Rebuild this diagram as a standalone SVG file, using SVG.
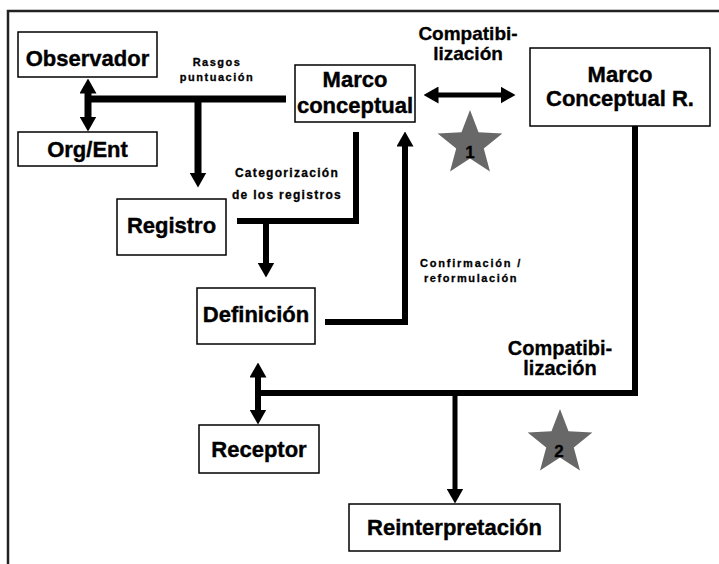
<svg xmlns="http://www.w3.org/2000/svg" width="719" height="564" viewBox="0 0 719 564">
  <style>
    .box { fill: #fff; stroke: #000; stroke-width: 1.5; }
    .node { font-family: "Liberation Sans", Arial, sans-serif; font-weight: bold; font-size: 22px; text-anchor: middle; fill: #000; stroke: #000; stroke-width: 0.4; }
    .lbl { font-family: "Liberation Sans", Arial, sans-serif; font-weight: bold; text-anchor: middle; fill: #000; stroke: #000; stroke-width: 0.3; }
    .wire { fill: none; stroke: #000; stroke-linejoin: miter; stroke-linecap: butt; }
    .star { fill: #686868; }
  </style>
  <defs>
    <marker id="head" viewBox="0 0 15 17" refX="0.5" refY="8.5" markerWidth="15" markerHeight="17" markerUnits="userSpaceOnUse" orient="auto-start-reverse">
      <path d="M0,0 L15,8.5 L0,17 z" fill="#000"/>
    </marker>
    <!-- five-pointed star, outer radius 34, inner radius 14.5 -->
    <polygon id="starShape" points="0,-34 8.52,-11.73 32.34,-10.51 13.79,4.48 19.98,27.51 0,14.5 -19.98,27.51 -13.79,4.48 -32.34,-10.51 -8.52,-11.73"/>
  </defs>

  <rect x="0" y="0" width="719" height="564" fill="#fff"/>
  <!-- outer frame -->
  <rect x="8" y="11" width="740" height="600" fill="none" stroke="#222" stroke-width="2.5"/>

  <!-- connectors -->
  <g id="connectors">
    <path class="wire" stroke-width="7" d="M88,93 V117" marker-start="url(#head)" marker-end="url(#head)"/>
    <path class="wire" stroke-width="7" d="M88,99 H286"/>
    <path class="wire" stroke-width="7" d="M198,99 V173" marker-end="url(#head)"/>
    <path class="wire" stroke-width="6" d="M356,132 V221 H237"/>
    <path class="wire" stroke-width="6" d="M266,221 V263" marker-end="url(#head)"/>
    <path class="wire" stroke-width="6" d="M325,322 H405 V146" marker-end="url(#head)"/>
    <path class="wire" stroke-width="5" d="M438,95 H501" marker-start="url(#head)" marker-end="url(#head)"/>
    <path class="wire" stroke-width="6" d="M635,126 V393 H255"/>
    <path class="wire" stroke-width="6" d="M258,377 V410" marker-start="url(#head)" marker-end="url(#head)"/>
    <path class="wire" stroke-width="5" d="M455,393 V489" marker-end="url(#head)"/>
  </g>

  <!-- connector labels -->
  <g id="labels">
    <text class="lbl" font-size="11" letter-spacing="1.5" x="217" y="66">Rasgos</text>
    <text class="lbl" font-size="11" letter-spacing="1.5" x="217" y="81">puntuación</text>
    <text class="lbl" font-size="19" x="468" y="40">Compatibi-</text>
    <text class="lbl" font-size="19" x="468" y="60">lización</text>
    <text class="lbl" font-size="12" letter-spacing="1.3" x="287" y="177">Categorización</text>
    <text class="lbl" font-size="12" letter-spacing="1.3" x="287" y="199">de los registros</text>
    <text class="lbl" font-size="11" letter-spacing="1.8" x="471" y="267">Confirmación /</text>
    <text class="lbl" font-size="11" letter-spacing="1.6" x="471" y="282">reformulación</text>
    <text class="lbl" font-size="20" x="560" y="355">Compatibi-</text>
    <text class="lbl" font-size="20" x="560" y="375">lización</text>
  </g>

  <!-- numbered stars -->
  <g id="star1">
    <use href="#starShape" class="star" transform="translate(470,144)"/>
    <text class="lbl" font-size="17" x="470" y="158">1</text>
  </g>
  <g id="star2">
    <use href="#starShape" class="star" transform="translate(560,443)"/>
    <text class="lbl" font-size="17" x="559" y="457">2</text>
  </g>

  <!-- nodes -->
  <g id="observador">
    <rect class="box" x="18" y="32" width="139" height="45"/>
    <text class="node" x="87.5" y="66">Observador</text>
  </g>
  <g id="org-ent">
    <rect class="box" x="18" y="132" width="139" height="34"/>
    <text class="node" x="87.5" y="157">Org/Ent</text>
  </g>
  <g id="marco-conceptual">
    <rect class="box" x="295" y="65" width="120" height="57"/>
    <text class="node" x="355" y="87">Marco</text>
    <text class="node" x="355" y="113">conceptual</text>
  </g>
  <g id="marco-conceptual-r">
    <rect class="box" x="530" y="48" width="180" height="78"/>
    <text class="node" font-size="21" x="620" y="82">Marco</text>
    <text class="node" font-size="21" x="620" y="106">Conceptual R.</text>
  </g>
  <g id="registro">
    <rect class="box" x="117" y="199" width="109" height="56"/>
    <text class="node" x="171.5" y="233">Registro</text>
  </g>
  <g id="definicion">
    <rect class="box" x="197" y="288" width="118" height="56"/>
    <text class="node" x="256" y="322">Definición</text>
  </g>
  <g id="receptor">
    <rect class="box" x="199" y="425" width="120" height="48"/>
    <text class="node" x="259" y="457">Receptor</text>
  </g>
  <g id="reinterpretacion">
    <rect class="box" x="349" y="504" width="211" height="47"/>
    <text class="node" x="454.5" y="535">Reinterpretación</text>
  </g>
</svg>
